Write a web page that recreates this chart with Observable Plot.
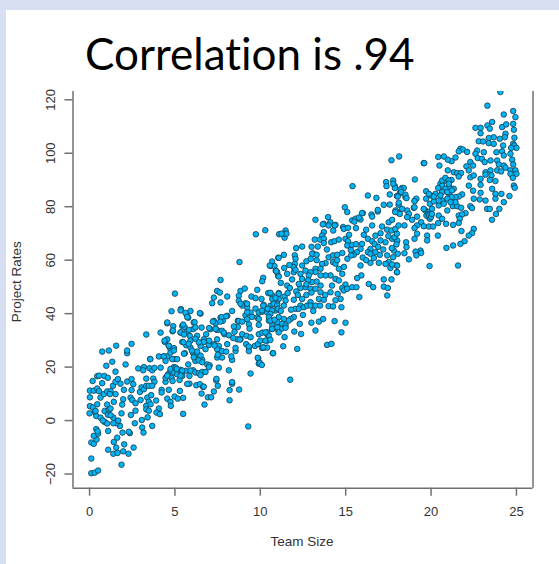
<!DOCTYPE html>
<html>
<head>
<meta charset="utf-8">
<script src="https://cdn.jsdelivr.net/npm/d3@7"></script>
<script src="https://cdn.jsdelivr.net/npm/@observablehq/plot@0.6"></script>
<style>
html,body{margin:0;padding:0;background:#d6e0f2;}
#page{position:absolute;left:0;top:0;width:559px;height:564px;overflow:hidden;}
#sheet{position:absolute;left:6px;top:9.5px;right:0;bottom:0;background:#fff;}
#title{position:absolute;left:85px;top:27px;font:44px Lato,"Open Sans",sans-serif;font-variant-ligatures:none;color:#000;white-space:nowrap;}
#chart{position:absolute;left:0;top:0;}
</style>
</head>
<body>
<div id="page"><div id="sheet"></div><div id="title">Correlation is .94</div><div id="chart"></div></div>
<script>
const titleText = "Correlation is .94";
const xLabel = "Team Size";
const yLabel = "Project Rates";
const xTicks = [0,5,10,15,20,25];
const yTicks = [-20,0,20,40,60,80,100,120];

const teamUnder5 = [[.1,-19.7],[.3,-19.5],[.5,-18.7],[.1,-14.2],[1.87,-16.5],[1.09,-10.9],[1.56,-10.1],[2.03,-8.9],[2.58,-10.1],[1.39,-12.4],[1.64,-12.1],[1.97,-11.5],[2.28,-12.4],[.1,-8.2],[.25,-8.7],[.41,-7.1],[.25,-5.7],[.5,-4.9],[.39,-3.2],[.47,-4],[1.42,-8],[1.62,-6.4],[1.93,-4.5],[2.36,-4.7],[2.3,-4.2],[1.09,-3.9],[1.78,-2],[1.56,-1],[1.68,0],[1.39,1.1],[1.39,-1],[2.65,-1],[2.42,2.1],[1.87,2.7],[2.69,3.7],[0,2.7],[.31,3.2],[.39,1.7],[.64,1.1],[.88,-.5],[1.03,-1.1],[.78,0],[.02,5.4],[.2,4.9],[.35,3.6],[.45,6.1],[.02,8.7],[.02,11.2],[.25,11.2],[.45,12],[.55,11],[.18,14.8],[.45,16.6],[.55,16.8],[.86,16.7],[1.07,16],[.74,14],[.74,25.8],[1.13,26.2],[.98,20.5],[1.33,22],[1.56,28],[1.52,18.3],[2.11,21],[2.2,25.2],[2.2,26.2],[2.46,28.7],[.64,8.6],[.84,9.9],[1.03,10.9],[1.23,11],[1.52,9.9],[1.19,9.9],[1.42,7],[1.03,6],[.88,3.6],[1.13,4],[1.23,4.5],[1.07,2.2],[1.23,2],[2.01,11.5],[1.97,8],[1.91,6],[1.37,13],[1.52,14.5],[1.66,15.5],[1.81,13.8],[2.2,14.6],[2.46,15.5],[2.56,13.6],[2.46,11.4],[2.4,8.6],[2.5,7.7],[2.69,6.5],[2.99,7.7],[2.95,10.7],[3.04,12.4],[3.18,11.7],[3.32,13],[2.85,19.5],[3.18,20],[3.14,18.8],[3.51,19.6],[3.67,18.8],[3.8,19.7],[3.55,23],[3.32,32.2],[4.16,19.8],[4.06,24],[4.35,24],[4.55,24],[4.16,32.9],[4.41,29.4],[4.55,30.4],[4.55,36.4],[4.9,35.3],[4.86,33.4],[4.8,40.9],[3.32,15.7],[3.73,15.7],[3.8,14.5],[3.47,13],[3.67,13],[3.38,8.6],[3.61,9.5],[3.47,7],[3.32,5.5],[3.57,6.1],[3.32,4.2],[3.47,3.7],[3.4,1.2],[3.06,.2],[3.08,-2.6],[3.16,-4.5],[3.67,-2],[3.9,7.5],[4.06,4.5],[3.92,3],[4.12,2.4],[4.22,11.5],[4.22,10.5],[4.64,11.5],[4.55,8.2],[4.74,7],[4.76,5.5],[4.98,9],[4.45,14.5],[4.45,16],[4.6,17.3],[4.8,16],[4.86,14.8],[4.74,18.6],[4.94,19.5],[4.94,18],[4.74,26.7],[4.64,27.9],[4.94,27.1],[4.74,25.4],[4.94,23],[4.45,22.3],[4.55,36.7],[4.39,29.9],[4.88,33.7],[4.64,28],[4.94,26.2],[4.84,23],[4.35,24],[3.56,23],[4.94,20],[4.74,19.3],[4.55,16.8]];

const teamUnder10 = [[5,47.5],[5.35,41.7],[5.17,8.2],[5.48,8.5],[5.48,2.5],[5.29,11.1],[5.04,19.8],[5.13,17.3],[5.33,19],[5.43,16.7],[5.27,15.2],[5.62,18.6],[5.78,21],[5.85,16.7],[6.07,18.8],[6.2,18],[6.4,17.7],[6.6,18.2],[6.79,18.2],[5.85,13.8],[6.25,13.2],[6.46,13.6],[6.65,12.6],[6.56,10.1],[6.93,8.7],[7.12,8.7],[6.73,6],[7.28,10.9],[7.51,13],[7.42,15],[8.16,18.8],[8.35,13.8],[8.2,11.4],[8.2,7.6],[8.76,11.6],[9.29,-2.2],[9.43,17.6],[9.88,23.2],[9.91,21.3],[5.33,32.9],[5.43,35.4],[5.56,35],[5.78,38.5],[5.68,39.8],[5.91,41],[6.5,40],[6.1,36.7],[6.07,34.2],[5.87,31.7],[5.68,33.2],[5.43,29.4],[5.66,28.2],[5.91,27.3],[5.58,25.2],[6.05,25.4],[6.3,25],[6.44,23.6],[6.2,22.3],[6.6,22.7],[6.56,34.8],[6.83,32.3],[6.69,30.4],[6.99,28.3],[6.5,27.9],[6.79,26.7],[6.3,31.7],[6.89,21],[7.03,20.7],[7.08,34.2],[7.28,37.3],[7.38,36.4],[7.18,43.9],[7.28,46],[7.47,48.5],[7.63,47.9],[7.67,44.2],[8.06,46.4],[7.67,38.5],[7.8,37.3],[8.06,39.2],[8.35,41],[7.47,33.9],[7.76,33.6],[7.9,32.3],[8.16,31.9],[7.47,30.4],[7.28,28.6],[7.57,27.9],[7.47,26.7],[7.76,26],[8.06,28.6],[8,25.8],[7.47,23.6],[7.76,23.6],[7.57,19.8],[8.35,22.7],[8.55,26],[8.49,33.2],[8.68,35],[8.45,35.2],[8.68,37.3],[8.65,30.4],[8.84,30.4],[8.94,32.3],[9.19,31.7],[9.17,28.6],[9.33,27.3],[9.33,26],[9.68,27.9],[9.86,28.6],[8.84,48.5],[9.09,49.4],[8.74,46.7],[8.74,44.8],[9.13,43.9],[8.94,43],[9.23,42.3],[9.48,46.4],[9.72,45.8],[9.82,48.9],[9.72,41.9],[9.91,40.4],[9.13,39.4],[9.43,40.4],[9.52,38.8],[9.82,38.5],[9.33,36],[9.37,34.4],[9.91,35.8],[9.23,37.9],[9.91,32.3],[9.74,69.7],[8.78,59.3],[7.67,52.6],[9.23,40.5],[9.23,43.7],[8.84,43.7],[9.91,38],[9.43,31.2],[9.33,27.7],[9.85,23.5],[9.97,21.6],[5.33,41.2],[5.62,40.3],[6.46,40.2],[5.72,38.7],[6.15,36.8],[5.48,35.9],[5.33,33],[5.53,32.2],[5.82,33.9],[6.2,34.9],[7,34.6],[7.22,37],[7.73,38.7],[8,39],[7.66,37],[7.38,34.3],[7.87,32.9],[8.41,30.9],[8.8,30.3],[8.74,37.2],[8.94,37],[5.91,29.9],[6.2,30.6],[6.7,29.4],[6.4,29.3],[7,29.9],[7.32,28.1],[8.3,24],[8.55,27.2],[7.51,24.6],[6.5,24.3],[6.3,25.8],[5.8,28.7],[5.5,29.3],[5.13,23],[5.53,25],[6,26.2],[6.1,23.7],[6.4,22.5],[6.6,21.8],[6.99,20],[5.1,19.3],[5.43,18.7],[5.91,18.7],[6.5,17],[5.33,16.8],[5.72,13.7],[6.69,12.7],[7.43,15.6],[8.35,14.4]];

const teamUnder15 = [[10.09,20.8],[10.2,27.3],[10.4,27.3],[10.73,25.2],[10.11,40.7],[10.11,32.9],[10.4,32.3],[10.29,71.2],[11.1,69.7],[10.69,59.5],[10.6,57.8],[10.83,57.8],[10.9,56.1],[11.05,60.9],[11.05,54.1],[10.17,53.4],[10.11,52.1],[10.46,47.7],[11.08,47.7],[10.99,55.5],[10.7,46.8],[10.7,45.5],[11.08,45.5],[10.2,43.3],[10.6,43],[10.99,43.7],[10.89,41.2],[10.5,41.8],[10.1,41.2],[10.4,40.5],[11.08,38.7],[10.5,37.4],[10.7,35.6],[10.98,34.3],[10.7,34.3],[10.4,33],[10.5,31.8],[10.99,36.8],[10.4,29.9],[10,29.9],[10.1,27.2],[11.42,68.4],[11.48,71.1],[11.42,69.9],[12.45,65.1],[13.23,75.1],[13.97,76.1],[13.72,73.6],[14.1,74.2],[14,73],[14.4,73.2],[14.27,71.1],[13.72,70.5],[13.62,69.2],[13.19,67.7],[13.5,67.7],[13.72,68],[13.72,66.4],[13.09,62.5],[13.37,65.1],[14.15,66.7],[14.34,67.1],[14.6,67.7],[14.85,72.4],[14.99,68],[14,61.1],[14.26,61.8],[14.5,62],[14.8,62.7],[14.26,59.3],[14.4,58.7],[14.6,56.8],[14.8,54.9],[13.82,58.9],[13.62,58.6],[13.23,56.8],[13.53,56.8],[14.11,54.3],[14.4,53],[14.6,52.4],[13.82,54.3],[13.53,54.3],[13.23,55.6],[12.45,58],[12.02,61.8],[12.06,60.5],[12.02,58.6],[11.96,57.4],[11.38,62],[11.08,60.9],[10.55,58],[10.93,55.9],[11.08,53.9],[11.57,54.9],[11.86,52.8],[11.96,55.5],[12.06,56.4],[12.35,54.9],[12.45,53],[12.65,56.1],[12.94,55.5],[12.84,54.3],[13.03,51.8],[12.65,49.9],[12.35,49.6],[12.25,51.1],[12.94,49.3],[13.23,49.3],[13.53,50.5],[13.53,48],[13.43,45.5],[13.72,45.2],[14.11,48],[14.53,47.4],[14.7,45.5],[14.99,50.9],[14.8,49.6],[14.89,48.7],[11.57,50.5],[11.73,49.6],[11.08,47.4],[11.42,46.4],[11.48,44.9],[10.89,45.9],[10.59,47.8],[10.07,45.5],[10.17,43],[10.44,41.8],[10.79,43.7],[10.99,43],[11.03,41.8],[10.69,41.2],[10.59,39.9],[10.5,38.7],[11.38,43],[11.96,45.2],[12.06,41.8],[12.35,43],[12.45,45.5],[12.25,41.8],[12.55,42.4],[12.74,43],[12.94,44.3],[12.94,43],[13.23,43],[13.5,43],[14,42.8],[14.26,42.7],[14.75,42.4],[11.96,38.7],[11.77,38],[11.65,37.4],[11.38,38],[11.28,36.2],[11.22,34.3],[10.99,34.9],[10.69,34.3],[10.59,37.4],[10.83,37.7],[11.48,35.6],[11.48,34.7],[11.42,31.2],[11.08,33],[10.3,33],[10.3,29.9],[10.59,30.2],[10.17,27.4],[10.75,25.2],[11.34,27.8],[11.99,33.3],[12.31,36.2],[12.39,32.4],[12.16,26.8],[12.99,36.6],[13.23,33.7],[13.43,37],[13.68,38],[14.35,37.2],[14.75,33],[14.99,36.6],[13.91,28.3],[14.17,28.7],[11.75,15.3],[14.95,79.8],[13.66,73.4],[14.36,73],[14.89,71.7],[13.04,62.4],[11.53,69.9],[11.24,69.9],[12.1,64.5],[12.7,59.6],[12.95,60.5],[13.3,60],[11.7,58.2],[11.4,57.1],[11.2,51.5],[11.6,47.7],[12.1,48.3],[12.7,47],[13,47.9],[14.5,60],[14.9,57.5],[13,65],[13.3,62],[13.9,64],[12.8,52.5],[13.3,52],[14.2,50.5],[13.8,47],[12.2,47],[14.4,45],[12.7,51],[11.8,41.5],[11.2,41],[13.1,41],[12.5,39.5]];

const teamUnder20 = [[15.09,78],[15.38,74.9],[15.58,75.5],[15.87,75.2],[16,77.6],[16.51,77.1],[16.88,78.2],[15.14,72.1],[15.6,72],[16.2,71.4],[16.55,73],[17.13,72.6],[17.52,74.2],[17.72,75.1],[18.01,78],[17.04,70.1],[17.43,71.4],[16.06,69.5],[16.3,68],[16.55,67.1],[16.74,69.2],[17.33,66.7],[17.72,68],[18.01,67.1],[17.04,67.4],[15.13,67.1],[15.09,65.5],[15.38,65.7],[15.96,66.1],[15.87,64.2],[15.66,63],[15.47,62],[15.32,61.8],[16.45,64.2],[16.3,63],[16.45,62.4],[16.74,63],[16.65,60.8],[16.45,59],[16.94,59],[17.43,61.8],[17.52,59.3],[17.33,58.6],[18,58],[18,55.5],[17.62,57.1],[15.87,58],[15.67,53.3],[15.92,54.3],[15.09,49.3],[15.38,49.9],[15.63,49.9],[16.35,51.1],[16.61,49.9],[17.23,52.8],[17.68,52.8],[17.23,50.1],[17.47,49.6],[17.43,46.8],[15.8,46.2],[15.4,87.7],[17.68,97.4],[18.13,98.8],[16.3,84.2],[16.8,83.3],[17.37,89.2],[17.78,89.8],[17.39,87.7],[17.88,87.7],[18.3,87],[18.4,87],[18.17,85],[18,84],[18.5,83.6],[17.58,84.6],[17.23,80.7],[17.58,80.8],[18.1,80.7],[17.92,78.6],[18.17,77.3],[18.6,78.6],[18.7,77.3],[19.05,90.2],[19.05,82.3],[19.14,83],[18.99,79.6],[19.57,96.3],[15.96,77.6],[15.77,75.9],[15.51,74.4],[16.88,78.8],[16.55,76.3],[19.6,96.3],[18.21,86.4],[18.25,85.5],[18.5,84.5],[18.56,83.2],[18.05,83.8],[17.88,87],[17.78,88.6],[18.44,73],[18.6,76.1],[18.31,79.2],[18.11,81.5],[17.9,78],[19.03,82.1],[19.03,79.8],[19.42,74.2],[19.18,76.3],[18.89,75.1],[19.18,73],[19.03,72],[19.87,72.6],[19.57,72.7],[19.71,85.8],[19.71,83],[19.67,78.6],[19.57,79.2],[19.83,76.3],[19.73,76.7],[19.93,75.5],[19.97,84.2],[19.87,84.8],[19.87,78],[19.93,81.1],[19.95,77],[19.85,77.2],[19.77,69.2],[19.77,67.4],[19.03,68],[19.18,69.9],[18.54,66.7],[18.56,64.9],[18.44,62.6],[19.09,63.2],[19.38,63.6],[19.42,62.7],[19.14,61.8],[18.7,60.3],[19.91,57.8],[18.01,67.4],[17.86,68.6],[18,69.9],[17.68,71.1],[17.91,71.7],[18.1,73],[17.82,63.6],[17.97,65.9],[18.05,62.4],[17.78,61.1],[18.01,58],[17.72,58.4],[18.01,55.5],[15.1,60.5],[15.3,63.8],[15.6,66],[15.2,69.5],[16,61],[16.2,60],[16.7,66],[16.9,65],[17,62],[17.2,64],[17.7,64.5],[17.5,69],[19.9,76.8]];

const teamUnder25 = [[24.06,122.9],[23.3,117.8],[24.26,114.5],[24.81,115.8],[24.94,113.5],[22.6,109.5],[22.9,109.5],[22.9,107.5],[23.3,110.4],[23.44,109.2],[23.58,111.7],[24.16,109.8],[24.4,110.8],[24.81,111],[24.85,108.8],[24.88,105.8],[24.36,107.3],[24.32,106],[24.02,105.4],[23.67,106],[23.38,105.7],[22.79,104.5],[23.05,104.4],[23.38,103.8],[23.67,103.5],[24.22,102.9],[24.81,103.5],[24.88,102.9],[25,102],[24.69,102],[23.09,100.4],[22.7,101],[22.6,99.8],[22.73,98.2],[22.98,97.9],[23.14,96.7],[23.48,97.3],[23.83,100.4],[24.16,100.7],[24.26,99.2],[24.65,99.8],[24.75,97.6],[24.81,95.8],[23.87,97.3],[23.97,95.8],[24.26,95.4],[24.36,94.6],[24.65,93.6],[24.94,93.6],[25,92.3],[24.65,92.3],[24.79,90.8],[24.85,87.9],[24.9,87.1],[21.72,101.7],[21.86,101.4],[22.11,100.5],[21.62,100.7],[21.43,98.4],[21.2,97],[20.98,97.6],[20.75,98.8],[20.42,98.6],[20.49,95.4],[22.3,96.7],[22.07,95.1],[22.21,93.6],[22.46,95.4],[22.3,91],[22.5,91.7],[22.9,90.4],[23.19,92.9],[23.19,92],[23.48,93.6],[23.54,91.7],[23.44,90],[23.77,89.6],[23.87,93.6],[24.1,93.2],[20.98,93.6],[21.33,92.9],[21.53,92.6],[21.76,92.6],[21.62,91.3],[21.2,90],[20.95,90],[20.75,89.6],[20.55,88.6],[20.65,87.9],[20.42,87],[20.26,84.8],[21.08,87.3],[21.04,85],[21.33,86.7],[22.21,87.9],[22.46,86],[22.9,88.2],[22.9,85.2],[22.5,83],[22.85,82.7],[23.19,82.3],[23.58,86.7],[23.77,84.8],[23.77,83],[24.12,84.8],[24.26,81.7],[24.59,84],[23.28,79.2],[23.44,79.2],[24,79.2],[23.8,77.3],[23.57,75.1],[22.3,80.2],[22.4,79.5],[21.82,84.6],[21.62,83.8],[21.43,83.6],[21.2,83.6],[20.95,83],[20.65,82.3],[20.45,80.5],[20.16,82],[20.45,76.7],[20.65,75.5],[20.95,78.6],[21.27,80.2],[21.53,80.2],[21.76,79.6],[22.02,77.6],[21.62,76.7],[21.82,77.1],[21.68,75.5],[21.62,73.9],[21.29,73.2],[20.88,73.6],[20.42,73.9],[20.12,72.6],[21.78,70.9],[22.5,71.7],[22.4,70.1],[22.21,69.2],[21.96,67.1],[21.72,66.1],[21.29,65.5],[20.9,64.6],[20.4,69.2],[21.58,58],[20.65,89.8],[20.84,90.8],[21.04,89.8],[21.04,88.6],[20.84,86.7],[20.65,85.5],[20.55,84.2],[20.95,85.5],[21.23,86.1],[21.43,81.7],[21.14,81.7],[20.75,81.1],[20.45,82.3],[20.16,83.8],[20.06,79.2],[20,76.2],[20.05,77.3]];

const readings = [...teamUnder5, ...teamUnder10, ...teamUnder15, ...teamUnder20, ...teamUnder25];

const lineGray = "#707070";
const textGray = "#333333";
document.getElementById("title").textContent = titleText;

const chart = Plot.plot({
  width: 559, height: 564,
  marginLeft: 72.5, marginRight: 26.5, marginTop: 91, marginBottom: 76.3,
  style: {background: "transparent", fontFamily: "'Liberation Sans', Arial, sans-serif", fontSize: "12px"},
  x: {domain: [-0.97, 25.97]},
  y: {domain: [-25.3, 123.1]},
  marks: [
    Plot.ruleY([-25.3], {stroke: lineGray, strokeWidth: 1.5}),
    Plot.ruleX([-0.97, 25.97], {stroke: lineGray, strokeWidth: 1.5}),
    Plot.axisX({ticks: xTicks, tickSize: 8, tickPadding: 11, stroke: lineGray, strokeWidth: 1.5, fill: textGray, fontSize: 13, label: null}),
    Plot.axisY({ticks: yTicks, tickSize: 8, tickPadding: 10, tickRotate: -90, stroke: lineGray, strokeWidth: 1.5, fill: textGray, fontSize: 13, label: null}),
    Plot.dot(readings, {x: d => d[0], y: d => d[1], r: 2.8, fill: "#00b4f5", stroke: "#173a4a", strokeWidth: 0.8, clip: "frame"}),
    Plot.text([xLabel], {frameAnchor: "bottom", dy: 57.5, dx: -1, fill: textGray, fontSize: 13.5}),
    Plot.text([yLabel], {frameAnchor: "left", textAnchor: "middle", dx: -56.5, dy: -8, rotate: -90, fill: textGray, fontSize: 13.5})
  ]
});
document.getElementById("chart").appendChild(chart);
</script>
</body>
</html>
